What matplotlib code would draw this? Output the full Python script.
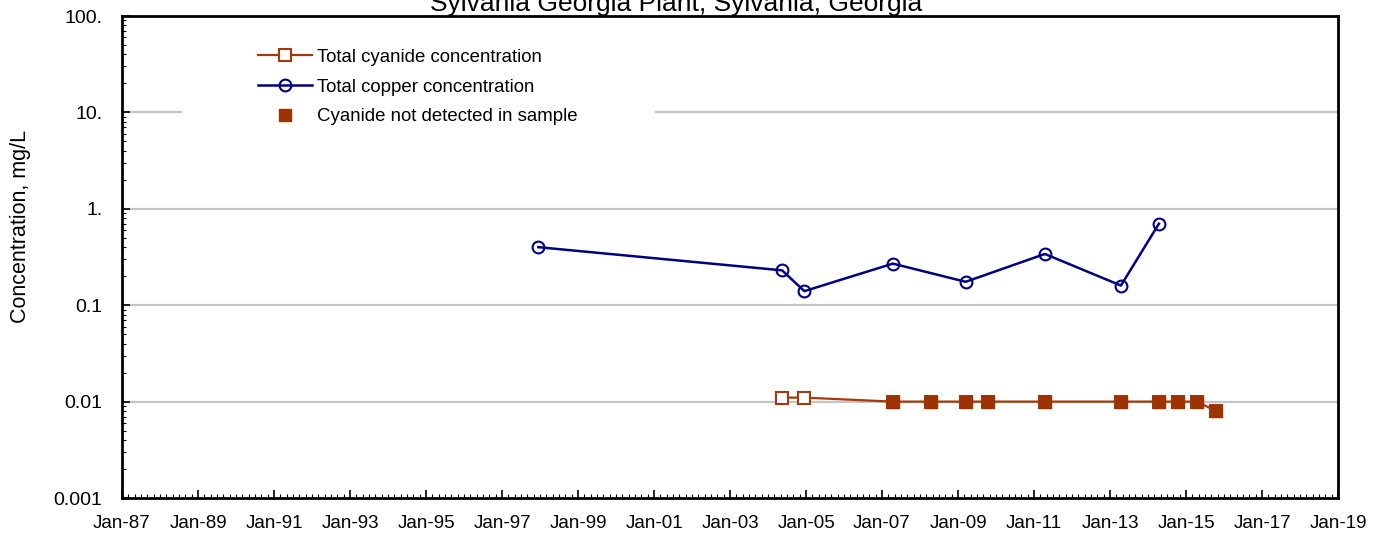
import datetime as dt
import matplotlib
matplotlib.use("Agg")
import matplotlib.pyplot as plt
import matplotlib.dates as mdates
from matplotlib.patches import Rectangle
from matplotlib.ticker import FixedLocator, FixedFormatter, LogLocator, NullFormatter

plt.rcParams.update({
    "font.family": ["Liberation Sans", "DejaVu Sans"],
    "font.size": 13.5,
})

# Sample dates (year, month) and concentrations, mg/L
copper_dates = [(1997, 12), (2004, 5), (2004, 12), (2007, 4), (2009, 3),
                (2011, 4), (2013, 4), (2014, 4)]
copper_conc = [0.40, 0.23, 0.14, 0.27, 0.175, 0.34, 0.16, 0.70]

cyanide_dates = [(2004, 5), (2004, 12), (2007, 4), (2008, 4), (2009, 3),
                 (2009, 10), (2011, 4), (2013, 4), (2014, 4), (2014, 10),
                 (2015, 4), (2015, 10)]
cyanide_conc = [0.011, 0.011, 0.01, 0.01, 0.01, 0.01, 0.01, 0.01, 0.01,
                0.01, 0.01, 0.008]
cyanide_nd = [False, False, True, True, True, True, True, True, True,
              True, True, True]

y_ticks = [0.001, 0.01, 0.1, 1, 10, 100]
y_labels = ["0.001", "0.01", "0.1", "1.", "10.", "100."]
x_tick_years = list(range(1987, 2020, 2))

cn_color = "#A33A0A"
cu_color = "#000080"

def to_dt(pairs):
    return [dt.datetime(y, m, 15) for y, m in pairs]

cu_x = to_dt(copper_dates)
cn_x = to_dt(cyanide_dates)

fig = plt.figure(figsize=(13.84, 5.34), dpi=100, facecolor="white")
ax = fig.add_axes([0.0882, 0.0674, 0.8786, 0.9026])

ax.set_yscale("log")
ax.set_ylim(0.001, 100)
ax.set_xlim(dt.datetime(1987, 1, 1), dt.datetime(2019, 1, 1))

for yv in [0.01, 0.1, 1, 10]:
    ax.axhline(yv, color="#c4c4c4", lw=1.6, zorder=0)

ax.plot(cn_x, cyanide_conc, color=cn_color, lw=1.6, marker="s", ms=8,
        mfc="white", mec=cn_color, mew=1.5, zorder=3,
        label="Total cyanide concentration")
ax.plot(cu_x, copper_conc, color=cu_color, lw=1.8, marker="o", ms=8.5,
        mfc="none", mec=cu_color, mew=1.5, zorder=3,
        label="Total copper concentration")
nd_x = [x for x, f in zip(cn_x, cyanide_nd) if f]
nd_y = [v for v, f in zip(cyanide_conc, cyanide_nd) if f]
ax.plot(nd_x, nd_y, ls="none", marker="s", ms=9, color="#9C3300",
        zorder=4, label="Cyanide not detected in sample")

ax.yaxis.set_major_locator(FixedLocator(y_ticks))
ax.yaxis.set_major_formatter(FixedFormatter(y_labels))
ax.yaxis.set_minor_locator(LogLocator(base=10, subs=range(2, 10)))
ax.yaxis.set_minor_formatter(NullFormatter())

ax.xaxis.set_major_locator(FixedLocator(
    mdates.date2num([dt.datetime(y, 1, 1) for y in x_tick_years])))
ax.xaxis.set_major_formatter(mdates.DateFormatter("%b-%y"))
ax.xaxis.set_minor_locator(mdates.MonthLocator(bymonth=[1, 3, 5, 7, 9, 11]))

ax.tick_params(which="major", direction="in", length=6, width=1.2)
ax.tick_params(which="minor", direction="in", length=3, width=0.8)
ax.tick_params(axis="x", which="major", labelsize=13.5, pad=12)
ax.tick_params(axis="y", which="major", labelsize=14, pad=14)

for side in ax.spines.values():
    side.set_linewidth(2)

ax.set_ylabel("Concentration, mg/L", fontsize=15.5, labelpad=0)
ax.yaxis.set_label_coords(-0.075, 0.563)
fig.text(0.4884, 0.980, "Sylvania Georgia Plant, Sylvania, Georgia",
         fontsize=19, ha="center", va="baseline")

# white panel behind the legend, breaking the 10 mg/L gridline
ax.add_patch(Rectangle((0.0493, 0.74), 0.389, 0.21, transform=ax.transAxes,
                       facecolor="white", edgecolor="none", zorder=1))
ax.legend(loc="center left", bbox_to_anchor=(0.1118, 0.8527), frameon=False,
          fontsize=13.4, handlelength=2.9, labelspacing=0.68,
          borderpad=0, borderaxespad=0, handletextpad=0.27)

fig.savefig("out.png", dpi=100, facecolor="white")
